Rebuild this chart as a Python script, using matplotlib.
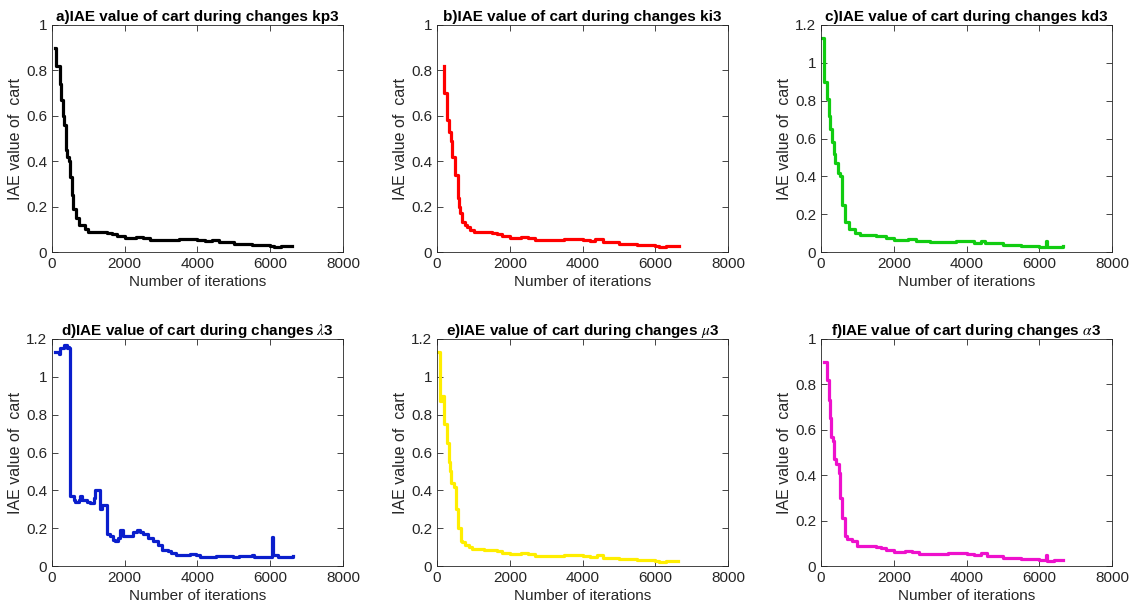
import matplotlib.pyplot as plt

plt.rcParams['font.family'] = ['Liberation Sans', 'DejaVu Sans']
plt.rcParams['mathtext.fontset'] = 'stix'

# a) kp3
xa = [90, 120, 230, 260, 300, 320, 380, 400, 460, 500, 540, 580, 650, 750, 900, 1000, 1300, 1500, 1650,
      1800, 2000, 2300, 2500, 2700, 3000, 3500, 4000, 4200, 4400, 4600, 5000, 5500, 6000, 6100, 6300, 6600]
ya = [0.9, 0.82, 0.74, 0.67, 0.60, 0.56, 0.45, 0.42, 0.40, 0.33, 0.25, 0.19, 0.15, 0.12, 0.10, 0.09, 0.088, 0.085,
      0.078, 0.07, 0.062, 0.068, 0.062, 0.055, 0.052, 0.056, 0.053, 0.048, 0.055, 0.042, 0.036, 0.031, 0.027, 0.021,
      0.025, 0.028]

# b) ki3
xb = [183, 200, 275, 320, 384, 411, 503, 567, 594, 640, 686, 760, 823, 914, 1005, 1300, 1500, 1650, 1800, 2000,
      2300, 2500, 2700, 3000, 3500, 4000, 4200, 4350, 4550, 5000, 5500, 6000, 6100, 6300, 6650]
yb = [0.82, 0.70, 0.58, 0.53, 0.49, 0.42, 0.34, 0.24, 0.2, 0.17, 0.13, 0.12, 0.11, 0.095, 0.09, 0.087, 0.085,
      0.078, 0.07, 0.063, 0.068, 0.062, 0.055, 0.052, 0.056, 0.053, 0.048, 0.056, 0.042, 0.036, 0.031, 0.027, 0.021,
      0.025, 0.028]

# c) kd3
xc = [27, 73, 165, 210, 250, 300, 350, 393, 457, 512, 576, 667, 759, 941, 1079, 1500, 1800, 2000, 2400, 2600,
      3000, 3700, 4200, 4400, 4500, 5000, 5500, 6000, 6180, 6210, 6400, 6650]
yc = [1.13, 0.9, 0.81, 0.72, 0.65, 0.58, 0.52, 0.47, 0.42, 0.4, 0.25, 0.16, 0.12, 0.1, 0.09, 0.085, 0.072, 0.065,
      0.068, 0.056, 0.055, 0.058, 0.05, 0.058, 0.045, 0.036, 0.031, 0.026, 0.06, 0.025, 0.027, 0.03]

# d) lambda3
xd = [91, 180, 228, 320, 410, 440, 470, 502, 593, 639, 730, 775, 821, 958, 1049, 1141, 1186, 1323, 1369, 1505,
      1597, 1688, 1740, 1825, 1870, 1962, 2235, 2327, 2418, 2509, 2646, 2783, 2920, 3011, 3193, 3285, 3421, 3786,
      3969, 4060, 4516, 4973, 5150, 5429, 5500, 5566, 5885, 6040, 6068, 6204, 6524, 6615]
yd = [1.13, 1.12, 1.15, 1.17, 1.15, 1.16, 1.15, 0.37, 0.35, 0.34, 0.35, 0.37, 0.35, 0.34, 0.335, 0.36, 0.4, 0.3,
      0.32, 0.17, 0.16, 0.14, 0.13, 0.15, 0.19, 0.16, 0.18, 0.19, 0.18, 0.17, 0.15, 0.13, 0.11, 0.085, 0.08, 0.07,
      0.06, 0.065, 0.06, 0.05, 0.052, 0.05, 0.055, 0.052, 0.06, 0.045, 0.05, 0.155, 0.06, 0.045, 0.05, 0.055]

# e) mu3
xe = [20, 75, 137, 183, 200, 275, 320, 366, 384, 457, 530, 567, 667, 686, 777, 868, 960, 1300, 1500, 1650, 1800,
      2000, 2300, 2500, 2700, 3000, 3500, 4000, 4200, 4400, 4550, 5000, 5500, 6000, 6100, 6300, 6620]
ye = [1.13, 0.87, 0.9, 0.82, 0.75, 0.65, 0.55, 0.5, 0.44, 0.42, 0.3, 0.2, 0.13, 0.125, 0.11, 0.1, 0.09, 0.087,
      0.085, 0.078, 0.07, 0.063, 0.068, 0.062, 0.055, 0.052, 0.056, 0.053, 0.048, 0.056, 0.042, 0.036, 0.031,
      0.027, 0.021, 0.025, 0.028]

# f) alpha3
xf = [73, 165, 210, 256, 274, 329, 366, 420, 484, 512, 576, 667, 713, 850, 987, 1300, 1500, 1650, 1800, 2000,
      2300, 2500, 2700, 3000, 3500, 4000, 4200, 4400, 4550, 5000, 5500, 6000, 6180, 6200, 6400, 6650]
yf = [0.9, 0.82, 0.73, 0.65, 0.57, 0.55, 0.47, 0.45, 0.41, 0.3, 0.21, 0.13, 0.12, 0.11, 0.09, 0.087, 0.085,
      0.078, 0.07, 0.063, 0.068, 0.062, 0.055, 0.052, 0.056, 0.053, 0.048, 0.056, 0.042, 0.036, 0.031, 0.026,
      0.05, 0.022, 0.025, 0.028]

series = [(xa, ya), (xb, yb), (xc, yc), (xd, yd), (xe, ye), (xf, yf)]
colors = ['#000000', '#ff0000', '#11cc11', '#0a1ecc', '#ffee00', '#ee11cc']
titles = ['a)IAE value of cart during changes kp3', 'b)IAE value of cart during changes ki3',
          'c)IAE value of cart during changes kd3', r'd)IAE value of cart during changes $\lambda$3',
          r'e)IAE value of cart during changes $\mu$3', r'f)IAE value of cart during changes $\alpha$3']
ymaxs = [1, 1, 1.2, 1.2, 1.2, 1]
yticks_list = [[0, 0.2, 0.4, 0.6, 0.8, 1], [0, 0.2, 0.4, 0.6, 0.8, 1],
               [0, 0.2, 0.4, 0.6, 0.8, 1, 1.2], [0, 0.2, 0.4, 0.6, 0.8, 1, 1.2],
               [0, 0.2, 0.4, 0.6, 0.8, 1, 1.2], [0, 0.2, 0.4, 0.6, 0.8, 1]]

fig = plt.figure(figsize=(11.3, 6.08), dpi=100)
lefts = [52, 437, 821]
tops = [25, 339]
for i in range(6):
    r, c = divmod(i, 3)
    ax = fig.add_axes([lefts[c] / 1130, 1 - (tops[r] + 227) / 608, 291 / 1130, 227 / 608])
    x, y = series[i]
    ax.plot(x, y, drawstyle='steps-post', color=colors[i], lw=2.3)
    ax.set_xlim(0, 8000)
    ax.set_ylim(0, ymaxs[i])
    ax.set_xticks([0, 2000, 4000, 6000, 8000])
    ax.set_yticks(yticks_list[i])
    ax.set_yticklabels(['%g' % t for t in yticks_list[i]])
    ax.tick_params(direction='in', top=True, right=True, labelsize=11, colors='#262626', length=4, width=0.6)
    for s in ax.spines.values():
        s.set_color('#262626')
        s.set_linewidth(0.6)
    ax.set_title(titles[i], fontsize=11, fontweight='bold', pad=3)
    ax.set_xlabel('Number of iterations', fontsize=11, color='#262626', labelpad=3)
    ax.set_ylabel('IAE value of  cart', fontsize=11.5, color='#262626', labelpad=2)

fig.savefig('out.png', dpi=100)
